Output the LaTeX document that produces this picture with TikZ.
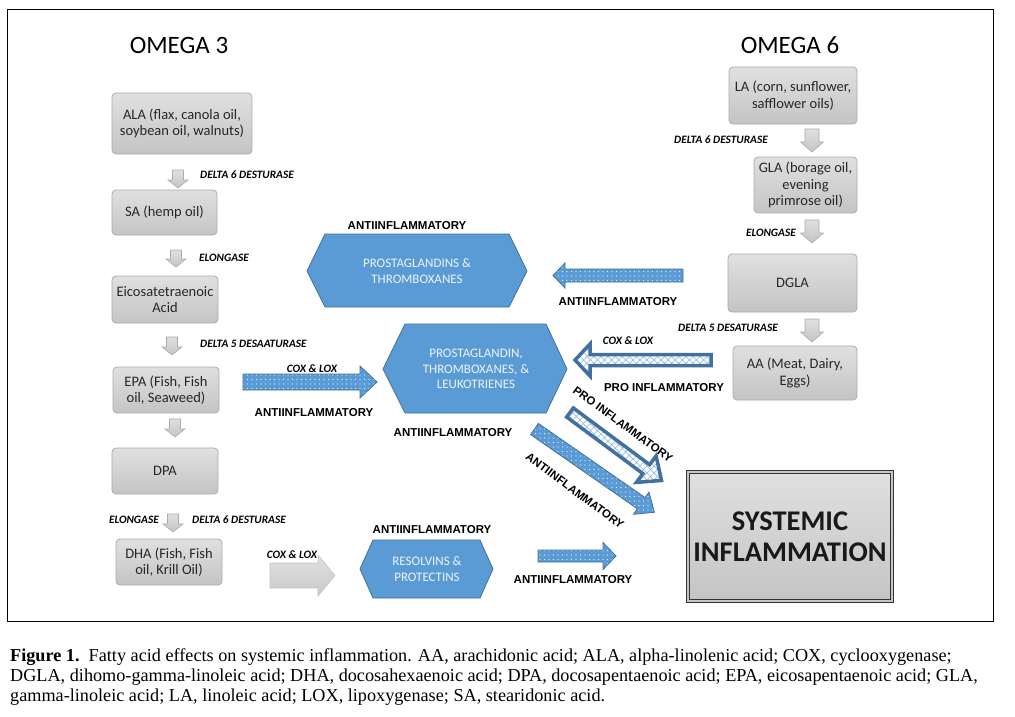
\documentclass[tikz,border=0pt]{standalone}
\usepackage{fontspec}
\setmainfont{Carlito}
\newfontfamily\arialf{Liberation Sans}
\newfontfamily\timesf{Liberation Serif}
\usetikzlibrary{patterns.meta}

\definecolor{hexblue}{RGB}{91,155,213}
\definecolor{hexedge}{RGB}{65,113,156}
\definecolor{boxtop}{RGB}{224,224,224}
\definecolor{boxbot}{RGB}{196,196,196}
\definecolor{boxedge}{RGB}{172,172,172}
\definecolor{hatchblue}{RGB}{150,190,228}
\definecolor{boxtext}{RGB}{38,38,38}

\newcommand{\blkarrow}[7][]{%
  \begin{scope}[shift={(#2)}, rotate=#3]
    \draw[#1] (0,-#5) -- ({#4-#7},-#5) -- ({#4-#7},-#6) -- (#4,0) -- ({#4-#7},#6) -- ({#4-#7},#5) -- (0,#5) -- cycle;
  \end{scope}}

\tikzset{
  graybox/.style={draw=boxedge, line width=0.8pt, rounded corners=4pt, top color=boxtop, bottom color=boxbot, align=center, text=boxtext, font=\fontsize{14.5}{16.5}\selectfont, inner sep=0pt},
  omegatitle/.style={font=\fontsize{25}{27}\selectfont, text=black, inner sep=0pt},
  enz/.style={font=\fontsize{11.3}{12}\selectfont\bfseries\itshape, text=black, inner sep=0pt},
  eff/.style={font=\arialf\fontsize{11.5}{12}\selectfont\bfseries, text=black, inner sep=0pt},
  hexshape/.style={fill=hexblue, draw=hexedge, line width=0.8pt},
  hextext/.style={align=center, text=white!88!hexblue, font=\fontsize{13}{15.5}\selectfont, inner sep=0pt},
  downarr/.style={draw=boxedge, line width=0.6pt, top color=boxtop, bottom color=boxbot},
  bigarr/.style={draw=boxedge!70, line width=0.6pt, top color=boxtop, bottom color=boxbot!90},
  dotarr/.style={draw=hexedge, line width=0.8pt, preaction={fill=hexblue}, pattern={Dots[radius=0.55pt, distance=4.5pt]}, pattern color=white!85!hexblue},
  proarr/.style={draw=hexedge, line width=3.5pt, line join=miter, preaction={fill=white}, pattern={Hatch[angle=45, distance=5pt, line width=0.7pt]}, pattern color=hatchblue},
  sysbox/.style={draw=black!80, line width=1pt, double=gray!45, double distance=2.2pt, top color=boxtop, bottom color=boxbot, align=center, text=black!90, font=\fontsize{28.5}{31}\selectfont\bfseries, inner sep=0pt},
  capt/.style={anchor=base west, inner sep=0pt, font=\timesf\fontsize{18.2}{20}\selectfont},
}

\begin{document}
\begin{tikzpicture}[x=1pt,y=-1pt]
\useasboundingbox (0,0) rectangle (1015,717);
\fill[white] (0,0) rectangle (1015,717);
\draw[line width=1pt] (7,10) rectangle (993,621);

% titles
\node[omegatitle] (om3) at (179,45) {OMEGA 3};
\node[omegatitle] (om6) at (790,45) {OMEGA 6};

% omega 3 column
\node[graybox, minimum width=140, minimum height=61] (ala) at (182,123.5) {ALA (flax, canola oil,\\soybean oil, walnuts)};
\node[graybox, minimum width=105, minimum height=45] (sa) at (164.5,212.5) {SA (hemp oil)};
\node[graybox, minimum width=106, minimum height=47] (eico) at (165,299.5) {Eicosatetraenoic\\Acid};
\node[graybox, minimum width=106, minimum height=46] (epa) at (166,390) {EPA (Fish, Fish\\oil, Seaweed)};
\node[graybox, minimum width=106, minimum height=46] (dpa) at (165,471) {DPA};
\node[graybox, minimum width=106, minimum height=46] (dha) at (169,562) {DHA (Fish, Fish\\oil, Krill Oil)};

\blkarrow[downarr]{178,170}{-90}{18}{5.5}{10}{8}
\blkarrow[downarr]{176,250}{-90}{17}{5.5}{10}{8}
\blkarrow[downarr]{172,337}{-90}{18}{5.5}{10}{8}
\blkarrow[downarr]{175,419}{-90}{18}{5.5}{10}{8}
\blkarrow[downarr]{173,514}{-90}{18}{5.5}{10}{8}

\node[enz, anchor=west] (e1) at (200,175) {DELTA 6 DESTURASE};
\node[enz, anchor=west] (e2) at (199,258) {ELONGASE};
\node[enz, anchor=west] (e3) at (200,344) {DELTA 5 DESAATURASE};
\node[enz, anchor=east] (e4) at (159,520) {ELONGASE};
\node[enz, anchor=west] (e5) at (192,520) {DELTA 6 DESTURASE};

% omega 6 column
\node[graybox, minimum width=128, minimum height=57] (la) at (793,95.5) {LA (corn, sunflower,\\safflower oils)};
\node[graybox, minimum width=103, minimum height=56] (gla) at (805.5,185) {GLA (borage oil,\\evening\\primrose oil)};
\node[graybox, minimum width=129, minimum height=58] (dgla) at (792.5,283) {DGLA};
\node[graybox, minimum width=124, minimum height=54] (aa) at (795,373) {AA (Meat, Dairy,\\Eggs)};

\blkarrow[downarr]{812,129}{-90}{23}{7}{11.5}{10}
\blkarrow[downarr]{812,220}{-90}{23}{7}{11.5}{10}
\blkarrow[downarr]{812,319}{-90}{23}{7}{11.5}{10}

\node[enz, anchor=east] (e9) at (768,140) {DELTA 6 DESTURASE};
\node[enz, anchor=east] (e10) at (796,233) {ELONGASE};
\node[enz, anchor=east] (e11) at (778,328) {DELTA 5 DESATURASE};

% hexagons
\draw[hexshape] (307,271) -- (325,234) -- (509,234) -- (527,271) -- (509,307) -- (325,307) -- cycle;
\node[hextext] (pt) at (417,271) {PROSTAGLANDINS \&\\THROMBOXANES};
\draw[hexshape] (383,369) -- (405,324) -- (546,324) -- (567,369) -- (546,413) -- (405,413) -- cycle;
\node[hextext] (ptl) at (476,369) {PROSTAGLANDIN,\\THROMBOXANES, \&\\LEUKOTRIENES};
\draw[hexshape] (360,569) -- (373,540) -- (480,540) -- (493,569) -- (480,598) -- (373,598) -- cycle;
\node[hextext] (rp) at (427,569) {RESOLVINS \&\\PROTECTINS};

% systemic inflammation
\node[sysbox, minimum width=204, minimum height=129] (sys) at (790,536.5) {SYSTEMIC\\INFLAMMATION};

% block arrows
\blkarrow[dotarr]{683,275.5}{180}{130}{6.5}{12.5}{12}
\blkarrow[proarr]{711,360}{180}{136}{5.5}{16}{15}
\blkarrow[dotarr]{243,382}{0}{134}{8}{16}{17}
\blkarrow[dotarr]{538,556}{0}{78}{6}{13.5}{13}
\blkarrow[bigarr]{270,575.5}{0}{65}{12.5}{20.5}{17}
\blkarrow[proarr]{570,412.5}{-36.6}{114}{5.6}{16.5}{19}
\blkarrow[dotarr]{534.5,429}{-34.8}{146}{6.8}{13.5}{16}

% effect labels
\node[eff] (a1) at (407,226) {ANTIINFLAMMATORY};
\node[eff] (a2) at (618,302) {ANTIINFLAMMATORY};
\node[eff] (a3) at (314,413) {ANTIINFLAMMATORY};
\node[eff] (a4) at (453,433) {ANTIINFLAMMATORY};
\node[eff] (a5) at (432,530) {ANTIINFLAMMATORY};
\node[eff] (a6) at (573,580) {ANTIINFLAMMATORY};
\node[eff] (p1) at (664,388) {PRO INFLAMMATORY};
\node[eff, rotate=-36] (p2) at (623,424.5) {PRO INFLAMMATORY};
\node[eff, rotate=-36.5] (a7) at (575,491) {ANTIINFLAMMATORY};

\node[enz] (e6) at (312,369) {COX \& LOX};
\node[enz] (e7) at (292,555) {COX \& LOX};
\node[enz] (e8) at (628,341) {COX \& LOX};

% caption
\node[capt] (cap1) at (10,661) {\textbf{Figure 1.}\ \ Fatty acid effects on systemic inflammation. AA, arachidonic acid; ALA, alpha-linolenic acid; COX, cyclooxygenase;};
\node[capt] (cap2) at (10,681) {DGLA, dihomo-gamma-linoleic acid; DHA, docosahexaenoic acid; DPA, docosapentaenoic acid; EPA, eicosapentaenoic acid; GLA,};
\node[capt] (cap3) at (10,701) {gamma-linoleic acid; LA, linoleic acid; LOX, lipoxygenase; SA, stearidonic acid.};
\end{tikzpicture}
\end{document}
